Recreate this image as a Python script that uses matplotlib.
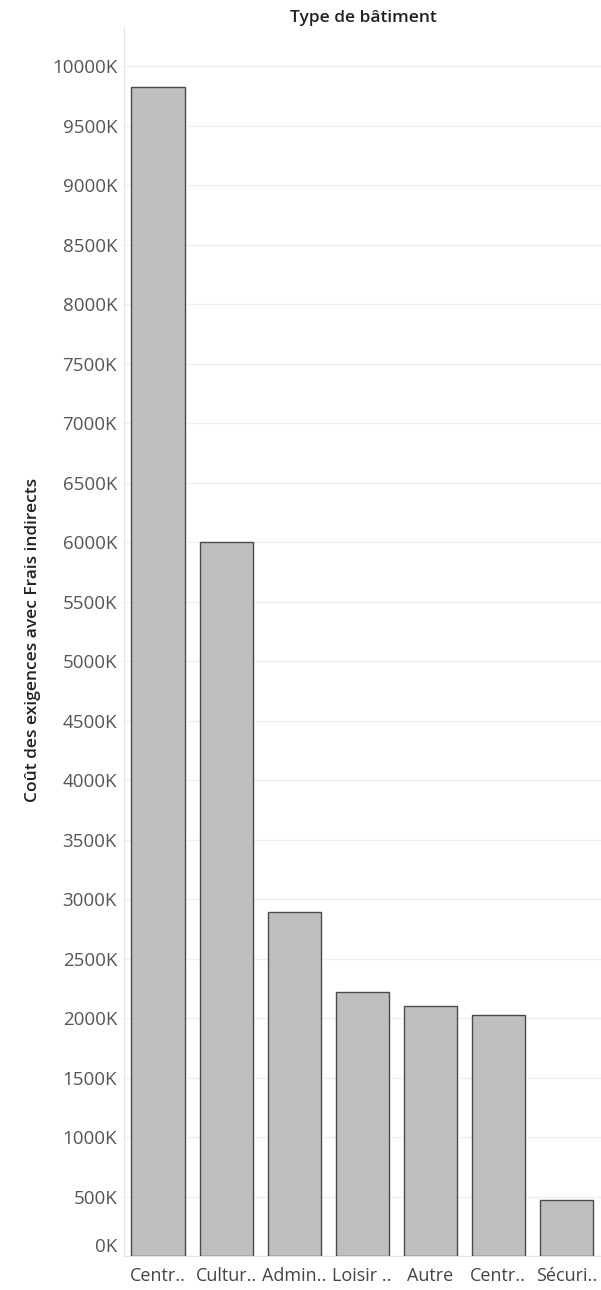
import matplotlib
matplotlib.use('Agg')
import matplotlib.pyplot as plt
import matplotlib.transforms as mtransforms
import numpy as np

# ==========================================
# DATA (values in thousands)
# ==========================================
categories = ['Centr..', 'Cultur..', 'Admin..', 'Loisir ..', 'Autre', 'Centr..', 'Sécuri..']
costs_k = [9824, 6005, 2891, 2218, 2101, 2025, 470]
y_ticks = list(range(0, 10001, 500))
y_ticklabels = [f"{v}K" for v in y_ticks]

TITLE = "Type de bâtiment"
Y_LABEL = "Coût des exigences avec Frais indirects"

plt.rcParams['font.family'] = ['Open Sans', 'DejaVu Sans']

W, H = 601, 1290
fig = plt.figure(figsize=(W / 100, H / 100), dpi=100)
ax = fig.add_axes([124 / W, 1 - 1256 / H, (601 - 124) / W, (1256 - 27) / H])

x = np.arange(len(categories))
ax.bar(x, costs_k, width=0.78, color='#bfbfbf', edgecolor='#4a4a4a', linewidth=1.0, zorder=3)

ax.set_xlim(-0.5, len(categories) - 0.5 + 0.01)
ax.set_ylim(0, 10330)

ax.set_yticks(y_ticks)
ax.set_yticklabels(y_ticklabels, color='#555555', fontsize=13.5)
ax.set_xticks(x)
ax.set_xticklabels(categories, color='#444444', fontsize=13)
ax.tick_params(axis='y', length=0, pad=5)
ax.tick_params(axis='x', length=0, pad=8)

# Tableau nudges the bottom label up so it stays inside the pane
zero_lbl = ax.get_yticklabels()[0]
zero_lbl.set_transform(zero_lbl.get_transform() +
                       mtransforms.ScaledTranslation(0, 11 / 100, fig.dpi_scale_trans))

ax.yaxis.grid(True, color='#f0f0f0', linewidth=1, zorder=0)
ax.xaxis.grid(False)
for side in ['top', 'right']:
    ax.spines[side].set_visible(False)
ax.spines['left'].set_color('#e3e3e3')
ax.spines['bottom'].set_color('#e3e3e3')

fig.text(363 / W, 1 - 18 / H, TITLE, ha='center', va='center',
         fontsize=12.5, fontweight='semibold', color='#222222')
fig.text(33 / W, 1 - 640 / H, Y_LABEL, ha='center', va='center', rotation=90,
         fontsize=12.5, fontweight='semibold', color='#222222')

fig.savefig('out.png', dpi=100, facecolor='white')
